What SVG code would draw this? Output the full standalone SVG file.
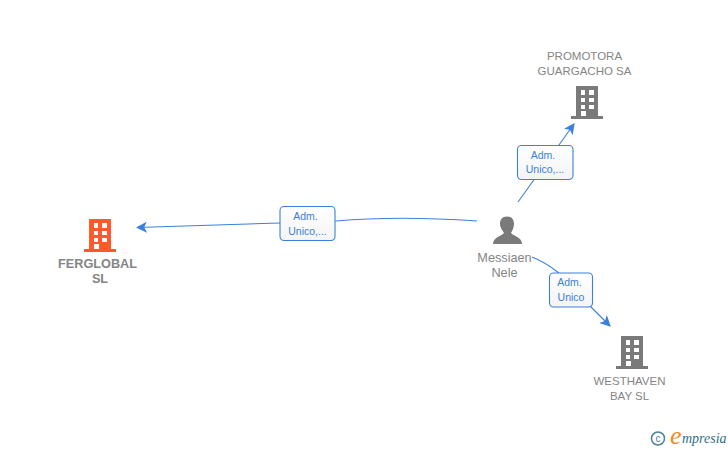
<svg xmlns="http://www.w3.org/2000/svg" width="728" height="450" viewBox="0 0 728 450">
<style>
.lbl{font-family:"Liberation Sans",Arial,sans-serif;font-size:12.700px;fill:#858585;text-anchor:middle}
.co{font-size:11.500px}
.bold{font-weight:bold}
.edge{font-family:"Liberation Sans",Arial,sans-serif;font-size:10.500px;fill:#3a7fdc;text-anchor:middle}
.conn{fill:none;stroke:#3a80dc;stroke-width:1.1}
.box{fill:url(#boxfill);stroke:#3a80dc;stroke-width:1.1}
</style>
<defs>
<linearGradient id="boxfill" x1="0" y1="0" x2="0" y2="1"><stop offset="0" stop-color="#ffffff"/><stop offset="1" stop-color="#f4f4f4"/></linearGradient>
<marker id="arrow" viewBox="0 0 10 10" refX="9" refY="5" markerWidth="11" markerHeight="11" markerUnits="userSpaceOnUse" orient="auto"><path d="M0 0L10 5L0 10L2.500 5Z" fill="#3a80dc"/></marker>
<g id="bld">
<path fill-rule="evenodd" d="M-11-16H11V14H16V17H-16V14H-11ZM-6-12V-7H-2V-12ZM2-12V-7H7V-12ZM-6-4V0H-2V-4ZM2-4V0H7V-4ZM-6 3V7H-2V3ZM2 3V7H7V3ZM-6 9V14H-1V9Z"/>
</g>
</defs>
<rect width="728" height="450" fill="#ffffff"/>
<g id="connectors">
<path class="conn" d="M477 221C420 217 370 218 336 221L280 223L137 227.500" marker-end="url(#arrow)"/>
<path class="conn" d="M518 202L574 124" marker-end="url(#arrow)"/>
<path class="conn" d="M532 257Q545 262 559 273M590 306L610 326" marker-end="url(#arrow)"/>
</g>
<g id="edge-ferglobal"><rect class="box" x="280" y="206.500" width="55" height="34" rx="4"/><text class="edge" x="305.500" y="220">Adm.</text><text class="edge" x="307.500" y="235">Unico,...</text></g>
<g id="edge-promotora"><rect class="box" x="517.500" y="145.500" width="55.500" height="34" rx="4"/><text class="edge" x="543" y="159">Adm.</text><text class="edge" x="545" y="173">Unico,...</text></g>
<g id="edge-westhaven"><rect class="box" x="549.500" y="273" width="43" height="34" rx="4"/><text class="edge" x="569.500" y="286">Adm.</text><text class="edge" x="571" y="301">Unico</text></g>
<g id="node-ferglobal"><use href="#bld" x="100" y="235" fill="#ff5a28"/><text class="lbl bold" x="97.500" y="268">FERGLOBAL</text><text class="lbl bold" x="100" y="283">SL</text></g>
<g id="node-promotora"><use href="#bld" x="587" y="102" fill="#7a7a7a"/><text class="lbl co" x="584.500" y="60">PROMOTORA</text><text class="lbl co" x="584.500" y="75">GUARGACHO SA</text></g>
<g id="node-westhaven"><use href="#bld" x="632" y="352" fill="#7a7a7a"/><text class="lbl co" x="629.500" y="385">WESTHAVEN</text><text class="lbl co" x="629.500" y="400">BAY SL</text></g>
<g id="node-messiaen"><path fill="#7a7a7a" d="M507 216.500C512 216.500 514 220 514 224C514 228 512 231 511 233C513 236 522 237 522 244H493C493 237 502 236 504 233C503 231 500 228 500 224C500 220 502 216.500 507 216.500Z"/><text class="lbl" x="504.500" y="262">Messiaen</text><text class="lbl" x="504.500" y="277">Nele</text></g>
<g id="logo"><circle cx="658" cy="438.500" r="6.500" fill="none" stroke="#4a8296" stroke-width="1.500"/><text x="658" y="442" font-family="Liberation Sans,sans-serif" font-size="10" fill="#4a8296" text-anchor="middle">c</text><text x="670" y="444" font-family="Liberation Serif,serif" font-style="italic" font-size="26" fill="#f08a1e">e</text><text x="682" y="443" font-family="Liberation Serif,serif" font-style="italic" font-size="14" fill="#2f6f86">mpresia</text></g>
</svg>
